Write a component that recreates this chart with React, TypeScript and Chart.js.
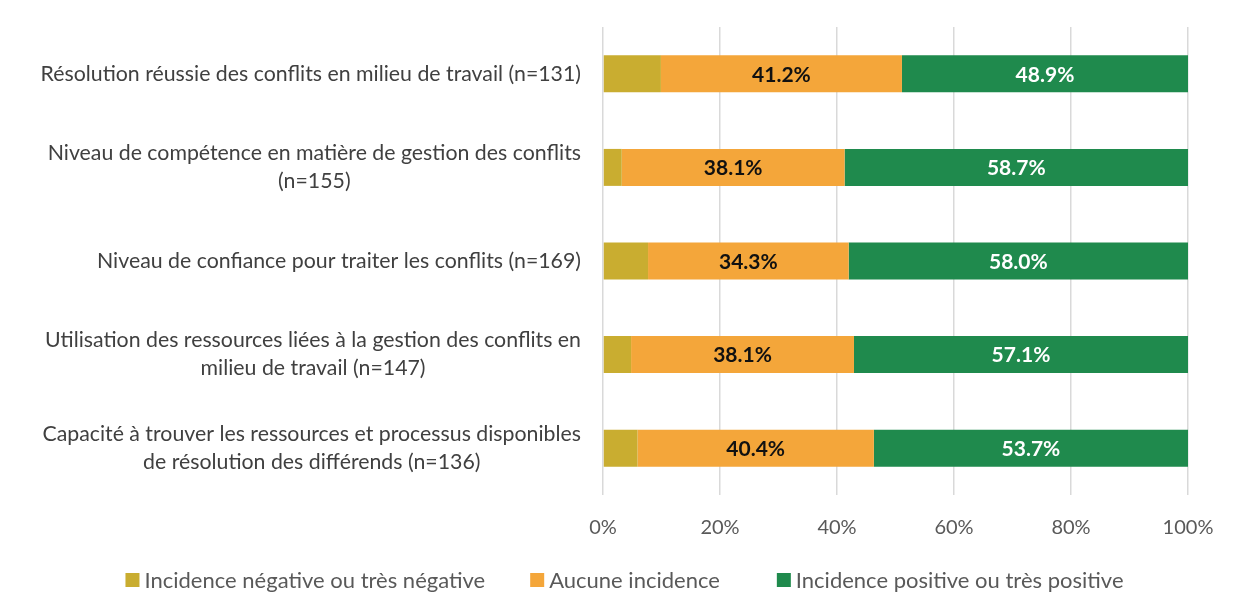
import React, { useEffect, useRef } from "react";
import { Chart, registerables } from "chart.js";

Chart.register(...registerables);

const categories: string[][] = [
  ["Résolution réussie des conflits en milieu de travail (n=131)"],
  ["Niveau de compétence en matière de gestion des conflits", "(n=155)"],
  ["Niveau de confiance pour traiter les conflits (n=169)"],
  ["Utilisation des ressources liées à la gestion des conflits en", "milieu de travail (n=147)"],
  ["Capacité à trouver les ressources et processus disponibles", "de résolution des différends (n=136)"],
];

const seriesNames = [
  "Incidence négative ou très négative",
  "Aucune incidence",
  "Incidence positive ou très positive",
];

const negative = [9.9, 3.2, 7.7, 4.8, 5.9];
const aucune = [41.2, 38.1, 34.3, 38.1, 40.4];
const positive = [48.9, 58.7, 58.0, 57.1, 53.7];

const xTicks = [0, 20, 40, 60, 80, 100];

const COLORS = ["#C9AD30", "#F4A63A", "#1F8A4D"];
const FONT = "Lato, 'Open Sans', sans-serif";

export default function App() {
  const ref = useRef<HTMLCanvasElement | null>(null);

  useEffect(() => {
    document.body.style.margin = "0";
    const canvas = ref.current;
    if (!canvas) return;

    const labelPlugin = {
      id: "customLabels",
      afterDatasetsDraw(chart: any) {
        const ctx = chart.ctx;
        ctx.save();
        ctx.font = `bold 21px ${FONT}`;
        ctx.textAlign = "center";
        ctx.textBaseline = "middle";
        [1, 2].forEach((di) => {
          const meta = chart.getDatasetMeta(di);
          const ds = chart.data.datasets[di];
          meta.data.forEach((bar: any, i: number) => {
            const v = ds.data[i] as number;
            const cx = (bar.x + bar.base) / 2;
            ctx.fillStyle = di === 1 ? "#111111" : "#FFFFFF";
            ctx.fillText(`${v.toFixed(1)}%`, cx, bar.y + 1);
          });
        });
        ctx.restore();
      },
      afterDraw(chart: any) {
        const ctx = chart.ctx;
        const y = chart.scales.y;
        ctx.save();
        ctx.font = `21.3px ${FONT}`;
        ctx.fillStyle = "#404040";
        ctx.textBaseline = "middle";
        ctx.textAlign = "center";
        const right = 581;
        const lh = 28;
        categories.forEach((lines, i) => {
          const cy = y.getPixelForValue(i);
          const w = Math.max(...lines.map((l) => ctx.measureText(l).width));
          const cx = right - w / 2;
          const y0 = cy - ((lines.length - 1) * lh) / 2;
          lines.forEach((l, k) => ctx.fillText(l, cx, y0 + k * lh));
        });

        // legend
        ctx.font = `22px ${FONT}`;
        ctx.textAlign = "left";
        const box = 14;
        const gapBox = 5;
        const gaps = [45, 57];
        const widths = seriesNames.map((n) => box + gapBox + ctx.measureText(n).width);
        const total = widths.reduce((a, b) => a + b, 0) + gaps[0] + gaps[1];
        let x = chart.width / 2 - total / 2 + 5.5;
        const ly = 580;
        seriesNames.forEach((n, i) => {
          ctx.fillStyle = COLORS[i];
          ctx.fillRect(x, ly - box / 2, box, box);
          ctx.fillStyle = "#595959";
          ctx.fillText(n, x + box + gapBox, ly + 1);
          x += widths[i] + (gaps[i] || 0);
        });
        ctx.restore();
      },
    };

    const chart = new Chart(canvas, {
      type: "bar",
      data: {
        labels: categories.map((c) => c.join(" ")),
        datasets: [
          { label: seriesNames[0], data: negative, backgroundColor: COLORS[0] },
          { label: seriesNames[1], data: aucune, backgroundColor: COLORS[1] },
          { label: seriesNames[2], data: positive, backgroundColor: COLORS[2] },
        ],
      },
      options: {
        indexAxis: "y",
        animation: false,
        responsive: true,
        maintainAspectRatio: false,
        layout: { padding: { top: 27, right: 50, bottom: 68, left: 0 } },
        datasets: { bar: { barPercentage: 0.395, categoryPercentage: 1 } },
        plugins: {
          legend: { display: false },
          tooltip: { enabled: false },
        },
        scales: {
          x: {
            stacked: true,
            min: 0,
            max: 100,
            afterBuildTicks: (scale: any) => {
              scale.ticks = xTicks.map((v) => ({ value: v }));
            },
            afterFit: (scale: any) => {
              scale.height = 50;
            },
            grid: { color: "#D9D9D9", lineWidth: 1.5, drawTicks: false },
            border: { display: false },
            ticks: {
              padding: 21,
              color: "#595959",
              font: { family: FONT, size: 20 },
              callback: (v: any) => `${v}%`,
            },
          },
          y: {
            stacked: true,
            afterFit: (scale: any) => {
              scale.width = 603;
            },
            grid: { display: false },
            border: { display: false },
            ticks: { display: false },
          },
        },
      },
      plugins: [labelPlugin],
    });

    return () => chart.destroy();
  }, []);

  return (
    <div style={{ width: 1238, height: 613, position: "relative" }}>
      <canvas ref={ref} />
    </div>
  );
}
